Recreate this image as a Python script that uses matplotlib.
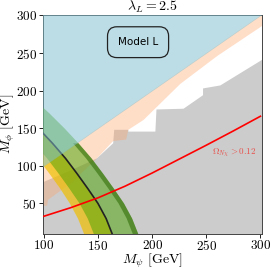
import numpy as np
import matplotlib
matplotlib.use("Agg")
import matplotlib.pyplot as plt

plt.rcParams['font.family'] = 'serif'
plt.rcParams['font.serif'] = ['cmr10']
plt.rcParams['mathtext.fontset'] = 'cm'
plt.rcParams['axes.formatter.use_mathtext'] = True

# excluded region (grey), upper edge
grey_x = [98.8, 125, 149, 164, 165, 178, 178, 203, 204, 229, 247, 247, 263, 301.5]
grey_y = [78, 94, 110, 130, 148, 148, 145.6, 145.6, 175, 176, 194, 203, 207, 241]

# peach band below the diagonal, lower edge
peach_x = [98.8, 103, 104, 125, 149, 164, 176, 178, 192, 226, 260, 301.5]
peach_y = [47, 47, 55, 77, 110, 133, 135, 148, 161, 209, 246, 286]

# bands, x positions at fixed M_phi
band_y = [0, 10, 30, 50, 70, 90, 110, 130, 150, 170, 190, 210]
central_x = [165, 163, 157.5, 150, 140.5, 130.5, 120, 108, 95, 81, 66, 50]
yellow_in_x = [139, 137, 131.5, 124, 115, 105, 94.5, 82, 69, 55, 40, 24]
green_in_x = [148, 146, 140.5, 133, 123.5, 113.5, 103, 91, 78, 64, 49, 33]
green_out_x = [189, 187, 181.5, 174, 164.5, 154.5, 144, 132, 119, 105, 90, 74]

strip_y = [0, 10, 30, 50, 70, 90, 110, 130]
strip_in_x = [184, 182, 176.5, 169, 159.5, 149.5, 139, 127]
strip_out_x = [189, 187, 181.5, 174, 164.5, 154.5, 144, 132]

# relic density line
red_x = [100, 125, 150, 175, 200, 225, 250, 275, 300]
red_y = [33, 44.5, 57.5, 73, 90.5, 109, 127.5, 146.5, 166]

diag = np.array([98.8, 301.5])

fig = plt.figure(figsize=(2.71, 2.70), dpi=100)
ax = fig.add_axes([0.157, 0.135, 0.81, 0.809])

ax.fill(grey_x + [301.5, 98.8], grey_y + [0, 0], color='#cccccc', lw=0, zorder=1)
ax.fill(peach_x + [301.5, 98.8], peach_y + [301.5, 98.8], color=(1.0, 0.63, 0.39), alpha=0.35, lw=0, zorder=2)

ax.fill(yellow_in_x + central_x[::-1], band_y + band_y[::-1], color=(0.94, 0.75, 0.0), alpha=0.7, lw=0, zorder=3)
ax.fill(green_in_x + green_out_x[::-1], band_y + band_y[::-1], color=(0.27, 0.63, 0.0), alpha=0.5, lw=0, zorder=4)
ax.fill(strip_in_x + strip_out_x[::-1], strip_y + strip_y[::-1], color=(0.2, 0.43, 0.04), alpha=0.6, lw=0, zorder=4)
ax.plot(central_x, band_y, color='#222222', lw=1.2, zorder=5)

ax.fill_between(diag, diag, 320, color='#7fbfcf', alpha=0.52, lw=0, zorder=6)

ax.plot(red_x, red_y, color='red', lw=1.2, zorder=7)
ax.text(255, 117, r'$\Omega_{N\chi} > 0.12$', color='#e8504a', fontsize=6.5, zorder=8, va='center')

ax.text(187, 264.5, 'Model L', family='DejaVu Sans', fontsize=7.5, ha='center', va='center', zorder=8,
        bbox=dict(boxstyle='round,pad=1.0,rounding_size=0.9', fc='none', ec='#222222', lw=0.9))

ax.set_xlim(98.8, 301.5)
ax.set_ylim(10, 300.5)
ax.set_xticks([100, 150, 200, 250, 300])
ax.set_yticks([50, 100, 150, 200, 250, 300])
ax.tick_params(labelsize=9.5, length=3, width=0.6, pad=1)
for s in ax.spines.values():
    s.set_linewidth(0.7)
    s.set_color('#444444')

ax.set_xlabel(r'$M_\psi$ [GeV]', fontsize=10, labelpad=-1)
ax.set_ylabel(r'$M_\phi$ [GeV]', fontsize=10, labelpad=-1)
ax.set_title(r'$\lambda_L = 2.5$', fontsize=10, pad=1.5)

fig.savefig('out.png', dpi=100)
